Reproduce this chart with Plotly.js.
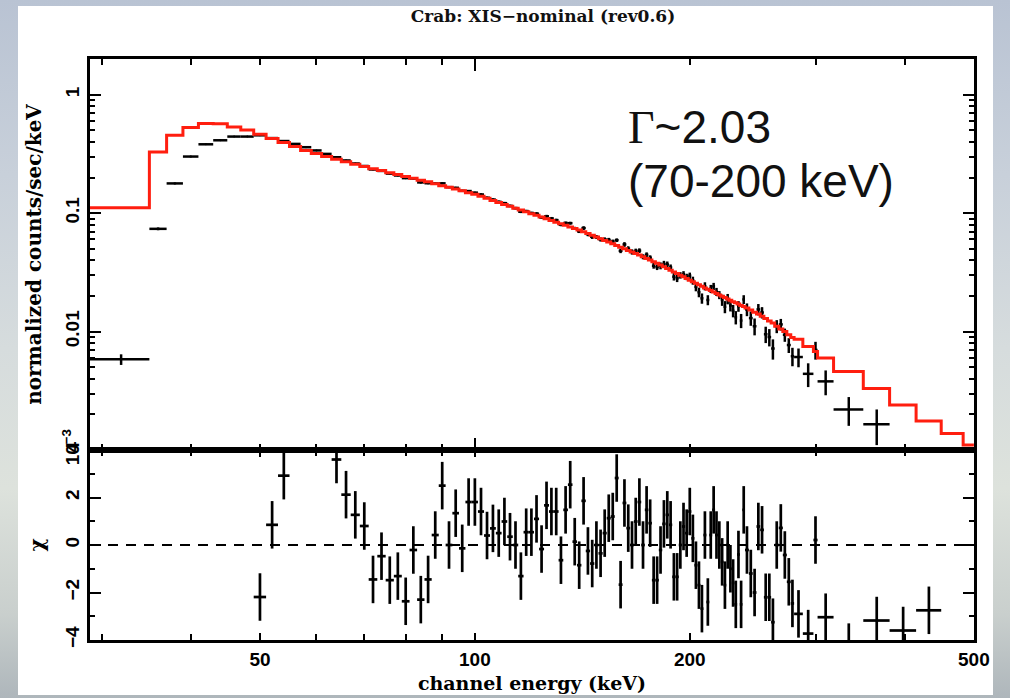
<!DOCTYPE html>
<html>
<head>
<meta charset="utf-8">
<script src="https://cdn.plot.ly/plotly-3.0.1.min.js"></script>
<style>
  html, body { margin: 0; padding: 0; width: 1010px; height: 698px; overflow: hidden; }
  body { background: linear-gradient(to bottom, #b9c3d3 0%, #c8d0da 25%, #d6dcdd 50%, #dde2dc 70%, #c9cfcd 88%, #aeb6bb 100%); position: relative; }
  #white { position: absolute; left: 18px; top: 6px; width: 975px; height: 689px; background: #ffffff; }
  #chart { position: absolute; left: 0; top: 0; width: 1010px; height: 698px; }
</style>
</head>
<body>
<div id="white"></div>
<div id="chart"></div>
<script>
// ---- data (energies in keV) ----
const binEdges = [28.9, 35, 37, 39, 41, 43, 45, 47, 49, 51, 53, 55, 57, 59, 61, 63, 65, 67, 69, 71,
  73, 75, 77, 79, 81, 83, 85, 87, 89, 91, 93, 95, 97, 99, 101, 103, 105, 107, 109, 111,
  113, 115, 117, 119, 121, 123, 125, 127, 129, 131, 133, 135, 137, 139, 141, 143, 145, 147, 149, 151,
  153, 155, 157, 159, 161, 163, 165, 167, 169, 171, 173, 175, 177, 179, 181, 183, 185, 187, 189, 191,
  193, 195, 197, 199, 201, 203, 205, 207, 209, 211, 213, 215, 217, 219, 221, 223, 225, 227, 229, 231,
  233, 235, 237, 239, 242, 245, 248, 251, 254, 257, 260, 263, 266.5, 270, 273.5, 277, 280, 288, 298, 302,
  318, 350, 381, 415, 450, 483, 500];

const modelCounts = [0.111,
  0.329, 0.455, 0.529, 0.572, 0.569, 0.535, 0.505, 0.465, 0.427, 0.395,
  0.366, 0.339, 0.320, 0.302, 0.285, 0.272, 0.259, 0.248, 0.238, 0.229,
  0.220, 0.212, 0.204, 0.197, 0.190, 0.184, 0.177, 0.171, 0.166, 0.160,
  0.155, 0.149, 0.1445, 0.139, 0.1337, 0.1282, 0.1233, 0.1186, 0.1143, 0.1104,
  0.1064, 0.1028, 0.0991, 0.0959, 0.0927, 0.0897, 0.0867, 0.0839, 0.0815, 0.0791,
  0.0766, 0.0743, 0.0721, 0.0697, 0.0673, 0.0652, 0.0630, 0.0608, 0.0589, 0.0570,
  0.0551, 0.0533, 0.0516, 0.0501, 0.0485, 0.0471, 0.0456, 0.0443, 0.0429, 0.0415,
  0.0403, 0.0390, 0.0378, 0.0365, 0.0353, 0.0341, 0.0330, 0.0319, 0.0309, 0.0299,
  0.0290, 0.0281, 0.0272, 0.0264, 0.0256, 0.0249, 0.0242, 0.0234, 0.0228, 0.0222,
  0.0216, 0.0210, 0.0204, 0.0199, 0.0194, 0.0189, 0.0184, 0.0179, 0.0175, 0.0171,
  0.0166, 0.0163,
  0.0158, 0.0152, 0.0146, 0.0141, 0.0135, 0.0129, 0.0123, 0.0118,
  0.0111, 0.0105, 0.0100, 0.0094,
  0.0089,
  0.0086, 0.0075, 0.0068, 0.0060, 0.0046, 0.0033, 0.0024, 0.00176, 0.00138, 0.0011];

const dataCounts = [0.00583,
  0.0738, 0.1785, 0.301, 0.382, 0.413, 0.444, 0.444, 0.455, 0.431, 0.407,
  0.385, 0.361, 0.339, 0.317, 0.297, 0.279, 0.263, 0.2505, 0.234, 0.2276,
  0.216, 0.2083, 0.1978, 0.1963, 0.182, 0.1792, 0.1783, 0.1788, 0.166, 0.1639,
  0.1546, 0.1539, 0.1492, 0.1439, 0.135, 0.1304, 0.1248, 0.1216, 0.1153, 0.1104,
  0.1029, 0.1042, 0.1004, 0.0991, 0.0922, 0.0942, 0.0904, 0.0874, 0.0800, 0.0827,
  0.0824, 0.0746, 0.0702, 0.0749, 0.0666, 0.0632, 0.0630, 0.0600, 0.0601, 0.0596,
  0.0577, 0.0592, 0.0481, 0.0545, 0.0502, 0.0471, 0.0479, 0.0483, 0.0429, 0.0446,
  0.0421, 0.0360, 0.0350, 0.0360, 0.0373, 0.0369, 0.0348, 0.0291, 0.0282, 0.0299,
  0.0305, 0.0290, 0.0297, 0.0270, 0.0239, 0.0215, 0.0191, 0.0242, 0.0185, 0.0230,
  0.0241, 0.0217, 0.0204, 0.0185, 0.0162, 0.0189, 0.0166, 0.0150, 0.0132, 0.0164,
  0.0124, 0.0187,
  0.0154, 0.0130, 0.0111, 0.0154, 0.0145, 0.0095, 0.0090, 0.0072,
  0.0111, 0.0115, 0.0094, 0.0077,
  0.0062,
  0.0061, 0.0044, 0.0070, 0.0038, 0.0022, 0.00165, 0.0006, 0.0006, null, null];

const dataErrors = [0.0006,
  0.002, 0.003, 0.004, 0.004, 0.004, 0.004, 0.004, 0.0046, 0.0043, 0.004,
  0.0038, 0.0036, 0.0034, 0.0032, 0.0033, 0.0033, 0.0032, 0.0031, 0.0029, 0.0029,
  0.0028, 0.0028, 0.0026, 0.0035, 0.0035, 0.0033, 0.0032, 0.0031, 0.003, 0.0029,
  0.0028, 0.0027, 0.0026, 0.0035, 0.0033, 0.0032, 0.0031, 0.003, 0.0029, 0.0028,
  0.0027, 0.0026, 0.0025, 0.0029, 0.0028, 0.0027, 0.0026, 0.0025, 0.0024, 0.0024,
  0.0023, 0.0022, 0.0022, 0.0028, 0.0027, 0.0026, 0.0025, 0.0024, 0.0024, 0.0023,
  0.0022, 0.0021, 0.0021, 0.0025, 0.0024, 0.0024, 0.0023, 0.0022, 0.0021, 0.0021,
  0.002, 0.002, 0.0019, 0.0024, 0.0023, 0.0022, 0.0021, 0.0021, 0.002, 0.0019,
  0.0019, 0.0018, 0.0018, 0.0021, 0.002, 0.002, 0.0019, 0.0019, 0.0018, 0.0018,
  0.0017, 0.0017, 0.0016, 0.002, 0.0019, 0.0019, 0.0018, 0.0018, 0.0017, 0.0017,
  0.0017, 0.0016,
  0.0019, 0.0018, 0.0018, 0.0017, 0.0016, 0.0015, 0.0015, 0.0014,
  0.0014, 0.0013, 0.0012, 0.0011,
  0.0011,
  0.0011, 0.0010, 0.0012, 0.0009, 0.0006, 0.00055, 0.0002, 0.0002, 0, 0];

const residualChi = [null,
  null, null, null, null, null, null, null, -2.19, 0.85, 2.92,
  5.6, 6.4, 6.0, 5.3, 3.6, 2.12, 1.27, 0.8, -1.45, -0.47,
  -1.48, -1.31, -2.37, -0.21, -2.3, -1.45, 0.42, 2.5, 0, 1.34,
  -0.14, 1.81, 1.81, 1.41, 0.4, 0.7, 0.5, 0.99, 0.35, 0,
  -1.31, 0.54, 0.54, 1.1, -0.17, 1.67, 1.41, 1.41, -0.64, 1.48,
  2.54, 0.14, -0.85, 1.86, -0.25, -0.78, 0, -0.35, 0.5, 1.13,
  1.2, 2.82, -1.67, 1.77, 0.71, 0, 0.99, 1.81, 0, 1.48,
  0.92, -1.48, -1.48, -0.21, 0.89, 1.27, 0.85, -1.34, -1.34, 0,
  0.78, 0.5, 1.41, 0.28, -0.85, -1.69, -2.68, 0.42, -2.4, 0.42,
  1.48, 0.42, 0, -0.71, -1.69, 0, -1.0, -1.6, -2.5, -0.4,
  -2.5, 1.48,
  -0.21, -1.2, -2.0, 0.78, 0.64, -2.2, -2.2, -3.25,
  0, 0.72, -0.42, -1.55,
  -2.46,
  -2.9, -3.73, 0.21, -3.04, -4.3, -3.18, -3.6, -2.75, null, null];

const xTickVals = [50, 100, 200, 500];
const xTickText = ['50', '100', '200', '500'];
const yTickVals = [0.001, 0.01, 0.1, 1];
const yTickText = ['10<sup>\u22123</sup>', '0.01', '0.1', '1'];
const chiTickVals = [-4, -2, 0, 2, 4];
const chiTickText = ['\u22124', '\u22122', '0', '2', '4'];

// ---- derived tables ----
const centers = [], halfWidths = [];
for (let i = 0; i < binEdges.length - 1; i++) {
  centers.push((binEdges[i] + binEdges[i + 1]) / 2);
  halfWidths.push((binEdges[i + 1] - binEdges[i]) / 2);
}
const stepX = binEdges.slice();
const stepY = modelCounts.concat([modelCounts[modelCounts.length - 1]]);

const minorLogY = [];
[0.001, 0.01, 0.1].forEach(d => { for (let k = 2; k <= 9; k++) minorLogY.push(d * k); });

const black = '#000000';
const red = '#ff1e0f';
const tickFont = {family: 'Liberation Sans, Arial, sans-serif', size: 19, color: black, weight: 'bold'};
const labelFont = {family: 'DejaVu Serif, serif', size: 19, color: black, weight: 'bold'};
const yLabelFont = {family: 'DejaVu Serif, serif', size: 20, color: black, weight: 'bold'};
const noteFont = {family: 'Liberation Sans, Arial, sans-serif', size: 46, color: '#111111'};

const traces = [
  {
    type: 'scatter', mode: 'markers', x: centers, y: dataCounts, xaxis: 'x', yaxis: 'y',
    marker: {size: 2, color: black},
    error_x: {type: 'data', array: halfWidths, symmetric: true, color: black, thickness: 2.5, width: 0},
    error_y: {type: 'data', array: dataErrors, symmetric: true, color: black, thickness: 2.5, width: 0},
    hoverinfo: 'skip'
  },
  {
    type: 'scatter', mode: 'lines', x: stepX, y: stepY, xaxis: 'x', yaxis: 'y',
    line: {shape: 'hv', color: red, width: 3}, hoverinfo: 'skip'
  },
  {
    type: 'scatter', mode: 'markers', x: centers, y: residualChi, xaxis: 'x2', yaxis: 'y2',
    marker: {size: 2, color: black},
    error_x: {type: 'data', array: halfWidths, symmetric: true, color: black, thickness: 2.7, width: 0},
    error_y: {type: 'constant', value: 1, color: black, thickness: 2.7, width: 0},
    hoverinfo: 'skip'
  }
];

const xRange = [Math.log10(28.9), Math.log10(500.2)];
const axisCommon = {
  showline: true, linewidth: 3, linecolor: black, mirror: 'ticks',
  ticks: 'inside', tickwidth: 2, tickcolor: black,
  showgrid: false, zeroline: false, tickfont: tickFont
};

const layout = {
  width: 1010, height: 698,
  margin: {l: 90, r: 36, t: 59, b: 58},
  paper_bgcolor: 'rgba(0,0,0,0)', plot_bgcolor: '#ffffff',
  showlegend: false,
  title: {
    text: 'Crab: XIS\u2212nominal (rev0.6)',
    font: {family: 'DejaVu Serif, serif', size: 17, color: '#111111', weight: 'bold'},
    x: 543 / 1010, xref: 'container', xanchor: 'center',
    y: 1 - 16 / 698, yref: 'container', yanchor: 'middle'
  },
  xaxis: Object.assign({}, axisCommon, {
    type: 'log', range: xRange, anchor: 'y', showticklabels: false,
    tickmode: 'array', tickvals: [100], ticklen: 12,
    minor: {tickmode: 'array', tickvals: [30, 40, 50, 60, 70, 80, 90, 200, 300, 400], ticks: 'inside', ticklen: 6, tickwidth: 2, tickcolor: black}
  }),
  xaxis2: Object.assign({}, axisCommon, {
    type: 'log', range: xRange, anchor: 'y2', matches: 'x',
    tickmode: 'array', tickvals: xTickVals, ticktext: xTickText, ticklen: 7,
    minor: {tickmode: 'array', tickvals: [30, 40, 60, 70, 80, 90, 300, 400], ticks: 'inside', ticklen: 6, tickwidth: 2, tickcolor: black},
    title: {text: 'channel energy (keV)', font: labelFont, standoff: 8}
  }),
  yaxis: Object.assign({}, axisCommon, {
    type: 'log', range: [-3, 0.3025], domain: [0.327, 1], anchor: 'x',
    tickmode: 'array', tickvals: yTickVals, ticktext: yTickText, tickangle: -90, ticklen: 11,
    minor: {tickmode: 'array', tickvals: minorLogY, ticks: 'inside', ticklen: 5, tickwidth: 2, tickcolor: black},
    title: {text: 'normalized counts/sec/keV', font: yLabelFont, standoff: 13}
  }),
  yaxis2: Object.assign({}, axisCommon, {
    range: [-4, 4], domain: [0, 0.327], anchor: 'x2',
    tickmode: 'array', tickvals: chiTickVals, ticktext: chiTickText, tickangle: -90, ticklen: 11,
    minor: {tickmode: 'array', tickvals: [-3, -1, 1, 3], ticks: 'inside', ticklen: 5, tickwidth: 2, tickcolor: black},
    title: {text: '\u03c7', font: yLabelFont, standoff: 13}
  }),
  shapes: [
    {type: 'line', xref: 'x2 domain', yref: 'y2', x0: 0, x1: 1, y0: 0, y1: 0,
     line: {color: black, width: 2, dash: '10px,8px'}, layer: 'below'}
  ],
  annotations: [
    {xref: 'paper', yref: 'paper', x: (626 - 90) / 884, y: (640 - 127) / 581, xanchor: 'left', yanchor: 'middle',
     text: '<span style="font-family:Liberation Serif, serif">\u0393</span>~2.03', showarrow: false,
     font: noteFont},
    {xref: 'paper', yref: 'paper', x: (626 - 90) / 884, y: (640 - 181) / 581, xanchor: 'left', yanchor: 'middle',
     text: '(70-200 keV)', showarrow: false,
     font: noteFont}
  ]
};

Plotly.newPlot('chart', traces, layout, {staticPlot: true, displayModeBar: false});
</script>
</body>
</html>
